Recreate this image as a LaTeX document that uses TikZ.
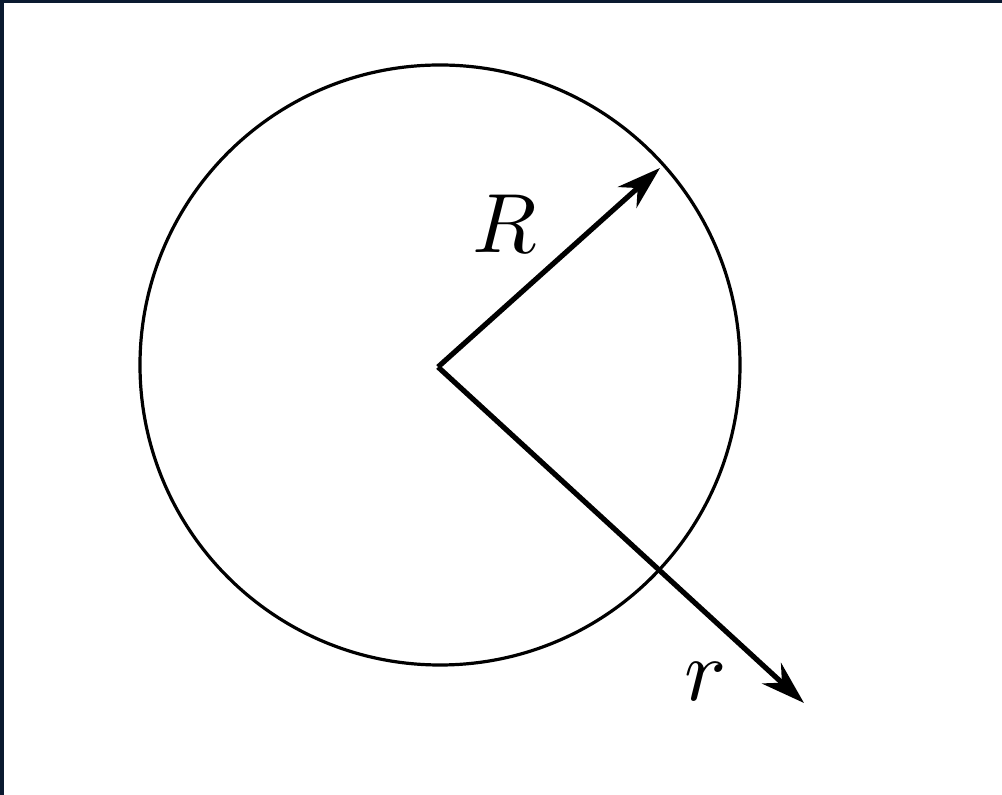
\documentclass[tikz,border=0pt]{standalone}
\usetikzlibrary{arrows.meta}
\definecolor{frame}{HTML}{0A1A30}
\begin{document}
\begin{tikzpicture}[x=0.5pt,y=-0.5pt,
  rim/.style={line width=1.6pt},
  vec/.style={line width=2.6pt,-{Stealth[length=22pt,width=14pt,inset=7pt]}},
  lbl/.style={inner sep=0pt}]
\useasboundingbox (0,0) rectangle (1002,795);
\fill[white] (0,0) rectangle (1002,795);
\fill[frame] (0,0) rectangle (4,795);
\fill[frame] (0,0) rectangle (1002,3);
\node[draw,rim,circle,minimum size=300pt,inner sep=0pt] (c) at (440,365) {};
\coordinate (o) at (438,367);
\coordinate (tR) at (660,168);
\coordinate (tr) at (804,703);
\draw[vec] (o) -- (tR);
\draw[vec] (o) -- (tr);
\node[lbl] (R) at (505,224) {\scalebox{4.2}{$R$}};
\node[lbl] (r) at (706,682) {\scalebox{4.4}{$r$}};
\end{tikzpicture}
\end{document}
